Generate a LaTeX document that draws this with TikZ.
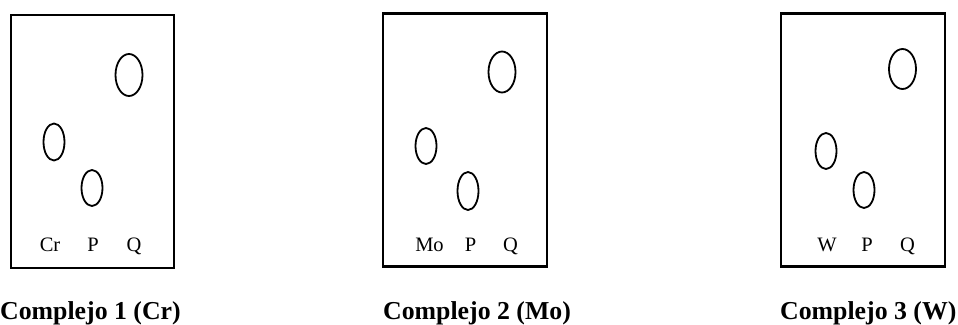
\documentclass[tikz,border=0pt]{standalone}
\usepackage{fontspec}
\setmainfont{Liberation Serif}
\usetikzlibrary{shapes.geometric}
\tikzset{
  panel/.style={draw, line width=2.2pt, rectangle, inner sep=0pt},
  spot/.style={draw, line width=1.8pt, ellipse, inner sep=0pt},
  lane/.style={anchor=base, inner sep=0pt, font=\fontsize{20.5}{21}\selectfont},
  caption/.style={anchor=base west, inner sep=0pt, font=\fontsize{25.8}{26}\selectfont\bfseries}
}
\begin{document}
\begin{tikzpicture}[x=1pt, y=-1pt]
\useasboundingbox (0,0) rectangle (958,324);

% Complejo 1 (Cr)
\node[panel, minimum width=163pt, minimum height=253pt] (box1) at (92.5,141.5) {};
\node[spot, minimum width=27pt, minimum height=42pt] (q1) at (129,75) {};
\node[spot, minimum width=21pt, minimum height=37pt] (m1) at (54,142) {};
\node[spot, minimum width=21pt, minimum height=36pt] (p1) at (92,188) {};
\node[lane] (lm1) at (50,251) {Cr};
\node[lane] (lp1) at (93,251) {P};
\node[lane] (lq1) at (134,251) {Q};
\node[caption] (t1) at (0,319) {Complejo 1 (Cr)};

% Complejo 2 (Mo)
\node[panel, minimum width=164pt, minimum height=253pt] (box2) at (464.7,140) {};
\node[spot, minimum width=27pt, minimum height=41pt] (q2) at (502,72) {};
\node[spot, minimum width=21pt, minimum height=36pt] (m2) at (426,146) {};
\node[spot, minimum width=21pt, minimum height=38pt] (p2) at (468,191) {};
\node[lane] (lm2) at (429.5,251) {Mo};
\node[lane] (lp2) at (470.5,251) {P};
\node[lane] (lq2) at (510.5,251) {Q};
\node[caption] (t2) at (383,319) {Complejo 2 (Mo)};

% Complejo 3 (W)
\node[panel, minimum width=164pt, minimum height=253pt] (box3) at (862.7,140) {};
\node[spot, minimum width=27pt, minimum height=40pt] (q3) at (902.5,69) {};
\node[spot, minimum width=21pt, minimum height=36pt] (m3) at (826,151) {};
\node[spot, minimum width=21pt, minimum height=36pt] (p3) at (864,190) {};
\node[lane] (lm3) at (827,251) {W};
\node[lane] (lp3) at (867,251) {P};
\node[lane] (lq3) at (907.5,251) {Q};
\node[caption] (t3) at (780,319) {Complejo 3 (W)};
\end{tikzpicture}
\end{document}
